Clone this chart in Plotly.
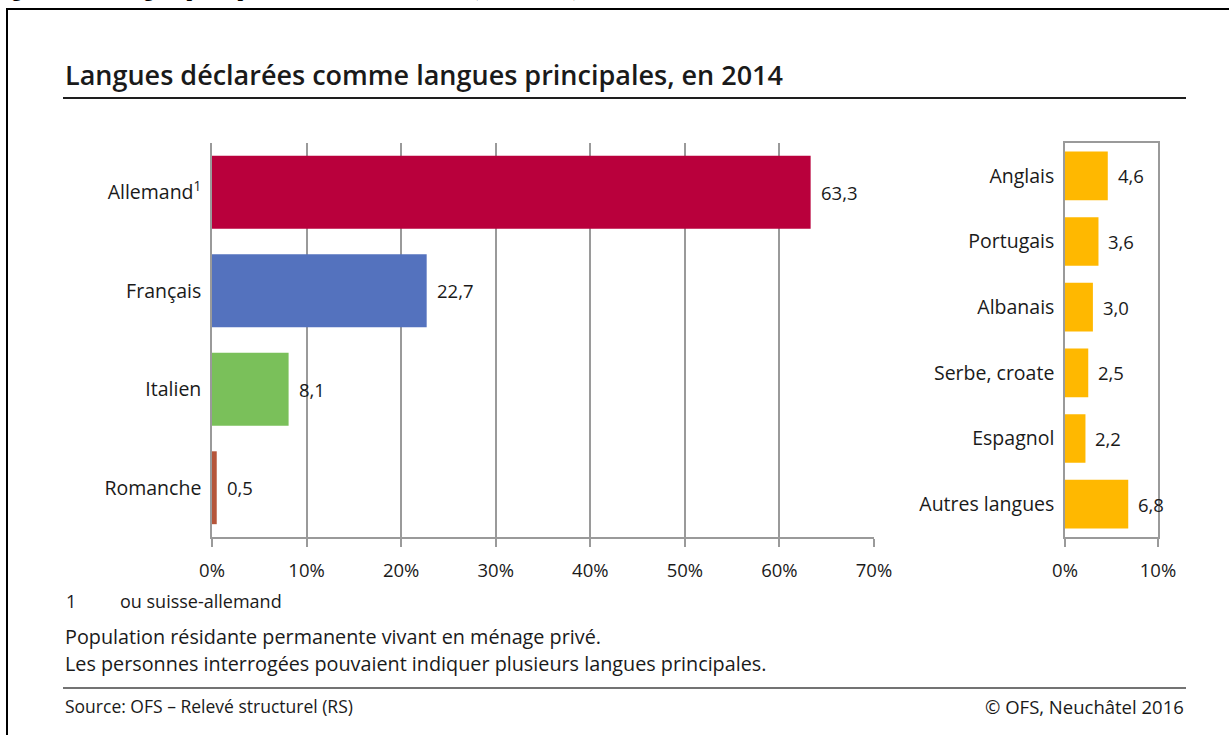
import plotly.graph_objects as go

# ---- data ----
main_langs = ["Allemand<sup>1</sup>", "Français", "Italien", "Romanche"]
main_vals = [63.3, 22.7, 8.1, 0.5]
main_colors = ["#B9003C", "#5472BE", "#7AC05A", "#B5553A"]

other_langs = ["Anglais", "Portugais", "Albanais", "Serbe, croate", "Espagnol", "Autres langues"]
other_vals = [4.6, 3.6, 3.0, 2.5, 2.2, 6.8]
other_color = "#FFB800"

left_ticks = [0, 10, 20, 30, 40, 50, 60, 70]
left_ticktext = ["0%", "10%", "20%", "30%", "40%", "50%", "60%", "70%"]
right_ticks = [0, 10]
right_ticktext = ["0%", "10%"]

W, H = 1229, 735
FONT = "Open Sans"
TXT = "#1a1a1a"
GRID = "#9a9a9a"

def px(x):
    return x / W

def py(y):
    return 1 - y / H

fig = go.Figure()

fig.add_trace(go.Bar(
    x=main_vals, y=main_langs, orientation="h",
    marker=dict(color=main_colors, line=dict(width=0)),
    xaxis="x", yaxis="y", showlegend=False, hoverinfo="skip",
))
fig.add_trace(go.Bar(
    x=other_vals, y=other_langs, orientation="h",
    marker=dict(color=other_color, line=dict(width=0)),
    xaxis="x2", yaxis="y2", showlegend=False, hoverinfo="skip",
))

annotations = []
for v, c in zip(main_vals, main_langs):
    annotations.append(dict(x=v, y=c, xref="x", yref="y", text=f"{v:.1f}".replace(".", ","),
                            xanchor="left", yanchor="middle", xshift=8, showarrow=False,
                            font=dict(family=FONT, size=18.5, color=TXT)))
for v, c in zip(other_vals, other_langs):
    annotations.append(dict(x=v, y=c, xref="x2", yref="y2", text=f"{v:.1f}".replace(".", ","),
                            xanchor="left", yanchor="middle", xshift=8, showarrow=False,
                            font=dict(family=FONT, size=18.5, color=TXT)))

def note(x, y, text, size, anchor="left", family=FONT, color=TXT, weight=None):
    f = dict(family=family, size=size, color=color)
    if weight:
        f["weight"] = weight
    annotations.append(dict(x=px(x), y=py(y), xref="paper", yref="paper", text=text,
                            xanchor=anchor, yanchor="middle", showarrow=False, font=f))

note(-8, -10, "<b>Figure 1 : Les langues principales de la Suisse résidente (2014, en %)</b>", 20,
     family="Liberation Serif", color="#000")
note(63, 74, "Langues déclarées comme langues principales, en 2014", 27, weight=600)
note(64, 601, "1", 18)
note(118, 601, "ou suisse-allemand", 18)
note(63, 636, "Population résidante permanente vivant en ménage privé.", 19.8)
note(63, 663, "Les personnes interrogées pouvaient indiquer plusieurs langues principales.", 19.8)
note(63, 706, "Source: OFS – Relevé structurel (RS)", 17.5)
note(1186, 706, "© OFS, Neuchâtel 2016", 18.5, anchor="right")

shapes = [
    dict(type="rect", xref="paper", yref="paper", x0=px(7), x1=px(1240), y0=py(9), y1=py(760),
         line=dict(color="#000", width=2)),
    dict(type="line", xref="paper", yref="paper", x0=px(63), x1=px(1186), y0=py(98), y1=py(98),
         line=dict(color="#1e1e1e", width=2)),
    dict(type="line", xref="paper", yref="paper", x0=px(63), x1=px(1186), y0=py(688), y1=py(688),
         line=dict(color="#444", width=1.5)),
]

ydom = [py(537), py(143)]
axis_common = dict(showline=True, linecolor=GRID, linewidth=1.5, ticks="outside", ticklen=8,
                   tickcolor=GRID, tickwidth=1.5, zeroline=False, automargin=False,
                   tickfont=dict(family=FONT, size=18.5, color=TXT), ticklabelstandoff=8,
                   fixedrange=True)

fig.update_layout(
    template="none",
    width=W, height=H, autosize=False,
    margin=dict(l=0, r=0, t=0, b=0, pad=0, autoexpand=False),
    paper_bgcolor="white", plot_bgcolor="white",
    bargap=0.26,
    font=dict(family=FONT, color=TXT),
    xaxis=dict(domain=[px(212), px(874)], range=[0, 70], tickmode="array", tickvals=left_ticks,
               ticktext=left_ticktext,
               showgrid=True, gridcolor=GRID, gridwidth=1.5, anchor="y", **axis_common),
    yaxis=dict(domain=ydom, autorange="reversed", showline=True, linecolor=GRID, linewidth=1.5,
               ticks="outside", ticklen=5, tickcolor="rgba(0,0,0,0)", automargin=False,
               tickfont=dict(family=FONT, size=19.5, color=TXT), showgrid=False, anchor="x",
               fixedrange=True),
    xaxis2=dict(domain=[px(1065), px(1158)], range=[0, 10], tickmode="array", tickvals=right_ticks,
                ticktext=right_ticktext,
                showgrid=False, mirror=True, anchor="y2", **axis_common),
    yaxis2=dict(domain=ydom, autorange="reversed", showline=True, mirror=True, linecolor=GRID,
                linewidth=1.5, ticks="outside", ticklen=5, tickcolor="rgba(0,0,0,0)", automargin=False,
                tickfont=dict(family=FONT, size=19.5, color=TXT), showgrid=False, anchor="x2",
                fixedrange=True),
    annotations=annotations,
    shapes=shapes,
)

post = """
document.documentElement.style.margin='0';
document.body.style.margin='0';
document.body.style.overflow='hidden';
"""

fig.write_html("out.html", config={"displayModeBar": False}, post_script=post)
